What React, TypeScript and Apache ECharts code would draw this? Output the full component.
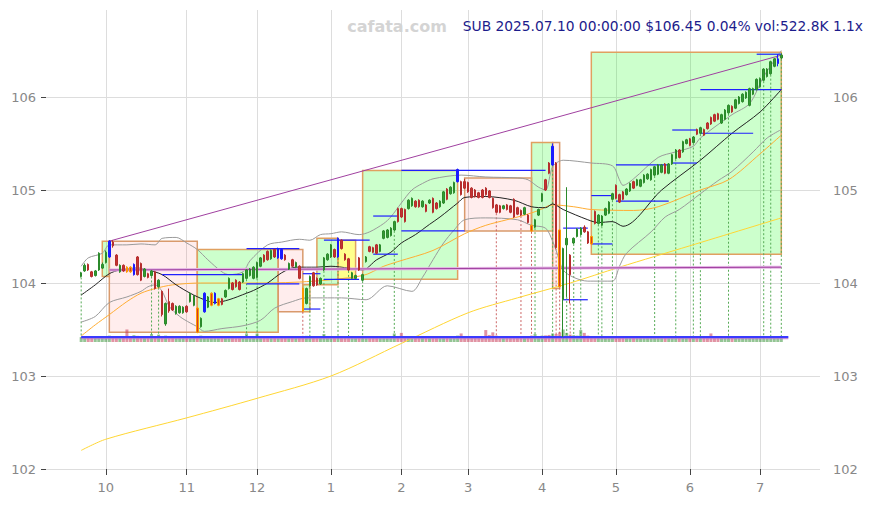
import React, { useEffect, useRef } from 'react';
import * as echarts from 'echarts';

const PAD = 10;
const SLOTS = 221;

const monthTicks: [number, string][] = [
  [7, '10'], [30, '11'], [50, '12'], [71, '1'], [91, '2'],
  [110, '3'], [131, '4'], [152, '5'], [173, '6'], [193, '7'],
];

// [open, close, low, high]
const ohlc: number[][] = [
  [104.07,104.11,104.06,104.12],[104.13,104.19,104.12,104.21],[104.20,104.14,104.13,104.21],[104.12,104.07,104.06,104.13],[104.08,104.13,104.07,104.14],
  [104.14,104.32,104.13,104.33],[104.16,104.20,104.15,104.22],[104.22,104.33,104.21,104.35],[104.28,104.45,104.27,104.46],[104.44,104.40,104.38,104.46],
  [104.30,104.19,104.18,104.31],[104.12,104.19,104.11,104.20],[104.19,104.13,104.12,104.20],[104.17,104.12,104.11,104.18],[104.17,104.12,104.11,104.18],
  [104.09,104.20,104.08,104.21],[104.28,104.09,104.08,104.29],[104.21,104.03,104.02,104.22],[104.07,104.15,104.06,104.16],[104.10,104.06,104.05,104.11],
  [104.08,104.13,104.07,104.14],[104.12,103.94,103.93,104.13],[103.96,104.03,103.95,104.04],[103.91,103.66,103.64,103.92],[103.56,103.78,103.54,103.79],
  [103.80,103.70,103.68,103.94],[103.78,103.71,103.70,103.79],[103.67,103.75,103.66,103.76],[103.68,103.75,103.67,103.76],[103.68,103.74,103.67,103.75],
  [103.75,103.69,103.68,103.76],[103.80,103.89,103.79,103.90],[103.76,103.86,103.75,103.87],[103.73,103.47,103.46,103.74],[103.53,103.62,103.52,103.63],
  [103.69,103.89,103.68,103.90],[103.74,103.85,103.73,103.86],[103.76,103.89,103.75,103.90],[103.78,103.89,103.77,103.90],[103.76,103.83,103.75,103.84],
  [103.83,103.77,103.76,103.84],[103.85,103.92,103.84,103.93],[103.94,104.05,103.93,104.06],[104.00,103.93,103.92,104.01],[104.03,103.96,103.95,104.04],
  [104.01,103.93,103.92,104.02],[104.01,104.10,104.00,104.11],[104.05,104.14,104.04,104.15],[104.08,104.15,104.07,104.16],[104.05,104.17,104.04,104.18],
  [104.06,104.22,104.05,104.23],[104.18,104.27,104.17,104.28],[104.30,104.23,104.22,104.31],[104.34,104.25,104.24,104.35],[104.26,104.35,104.25,104.36],
  [104.36,104.28,104.27,104.37],[104.27,104.37,104.26,104.38],[104.36,104.26,104.25,104.37],[104.30,104.25,104.24,104.31],[104.15,104.21,104.14,104.22],
  [104.25,104.18,104.17,104.26],[104.17,104.22,104.16,104.23],[104.18,104.05,104.04,104.19],[103.94,103.70,103.69,103.95],[103.78,103.94,103.77,103.95],
  [103.97,104.07,103.96,104.08],[104.11,103.97,103.96,104.12],[104.05,103.98,103.97,104.06],[103.99,104.05,103.98,104.06],[104.14,104.27,104.13,104.28],
  [104.25,104.31,104.24,104.32],[104.28,104.41,104.27,104.42],[104.36,104.28,104.27,104.37],[104.28,104.48,104.27,104.49],[104.46,104.37,104.36,104.47],
  [104.31,104.25,104.24,104.32],[104.26,104.14,104.13,104.27],[104.05,104.11,104.04,104.12],[104.05,104.08,104.04,104.09],[104.27,104.14,104.13,104.28],
  [104.03,104.09,104.02,104.10],[104.23,104.28,104.22,104.29],[104.39,104.34,104.33,104.40],[104.38,104.33,104.32,104.39],[104.41,104.32,104.31,104.42],
  [104.34,104.41,104.33,104.42],[104.48,104.56,104.47,104.57],[104.49,104.57,104.48,104.58],[104.51,104.59,104.50,104.60],[104.57,104.66,104.56,104.67],
  [104.80,104.66,104.65,104.81],[104.80,104.71,104.70,104.81],[104.79,104.66,104.65,104.80],[104.80,104.89,104.79,104.90],[104.83,104.91,104.82,104.92],
  [104.88,104.82,104.81,104.89],[104.89,104.82,104.81,104.90],[104.82,104.88,104.81,104.89],[104.84,104.77,104.76,104.85],[104.86,104.89,104.85,104.90],
  [104.91,104.76,104.75,104.92],[104.86,104.80,104.79,104.87],[104.82,104.88,104.81,104.89],[104.86,104.98,104.85,104.99],[105.01,104.90,104.89,105.02],
  [104.96,105.03,104.95,105.04],[104.97,105.08,104.96,105.09],[105.09,105.22,105.08,105.23],[105.09,104.95,104.94,105.10],[105.09,105.02,105.01,105.12],
  [105.08,104.98,104.97,105.09],[105.02,104.92,104.91,105.03],[105.00,104.93,104.92,105.01],[104.97,104.92,104.91,104.98],[105.00,104.92,104.91,105.01],
  [105.02,104.95,104.94,105.03],[104.99,104.92,104.91,105.00],[104.91,104.81,104.80,104.92],[104.84,104.76,104.75,104.85],[104.83,104.76,104.75,104.84],
  [104.80,104.83,104.79,104.84],[104.84,104.79,104.78,104.85],[104.83,104.76,104.75,104.84],[104.90,104.71,104.70,104.91],[104.81,104.74,104.73,104.82],
  [104.78,104.73,104.72,104.79],[104.74,104.81,104.73,104.82],[104.73,104.65,104.64,104.74],[104.62,104.56,104.55,104.63],[104.60,104.68,104.59,104.69],
  [104.73,104.79,104.72,104.80],[104.88,104.96,104.87,104.97],[105.11,105.00,104.99,105.12],[105.29,105.18,105.17,105.30],[105.27,105.47,105.26,105.50],
  [105.29,104.38,104.37,105.30],[104.57,103.96,103.95,104.58],[103.82,104.37,103.42,104.38],[104.41,104.48,103.85,105.03],[104.30,104.09,103.78,104.31],
  [104.43,104.48,104.42,104.49],[104.50,104.58,104.49,104.59],[104.52,104.59,104.51,104.60],[104.60,104.55,104.54,104.62],[104.55,104.43,104.42,104.56],
  [104.50,104.42,104.41,104.51],[104.77,104.64,104.63,104.78],[104.64,104.73,104.63,104.74],[104.62,104.72,104.61,104.73],[104.73,104.80,104.72,104.81],
  [104.75,104.87,104.74,104.88],[104.90,104.96,104.89,104.97],[105.05,104.91,104.90,105.06],[104.95,104.87,104.86,104.96],[104.98,104.90,104.89,104.99],
  [104.95,105.01,104.94,105.02],[104.99,105.07,104.98,105.08],[105.09,105.02,105.01,105.10],[105.05,105.11,105.04,105.12],[105.04,105.11,105.03,105.12],
  [105.08,105.16,105.07,105.17],[105.12,105.17,105.11,105.18],[105.11,105.22,105.10,105.23],[105.16,105.25,105.15,105.26],[105.17,105.27,105.16,105.28],
  [105.19,105.27,105.18,105.28],[105.28,105.18,105.17,105.29],[105.18,105.28,105.17,105.29],[105.28,105.38,105.27,105.39],[105.34,105.43,105.33,105.44],
  [105.43,105.35,105.34,105.44],[105.41,105.52,105.40,105.53],[105.50,105.54,105.49,105.55],[105.55,105.48,105.47,105.56],[105.51,105.57,105.50,105.58],
  [105.65,105.60,105.59,105.66],[105.61,105.67,105.60,105.68],[105.65,105.59,105.58,105.66],[105.72,105.66,105.65,105.73],[105.78,105.71,105.70,105.79],
  [105.81,105.74,105.73,105.82],[105.82,105.76,105.75,105.83],[105.72,105.81,105.71,105.82],[105.76,105.86,105.75,105.87],[105.83,105.91,105.82,105.92],
  [105.90,105.84,105.83,105.91],[105.88,105.97,105.87,105.98],[105.93,106.00,105.92,106.01],[105.95,106.03,105.94,106.04],[105.99,106.05,105.98,106.06],
  [105.91,106.09,105.90,106.10],[106.03,106.09,106.02,106.10],[106.08,106.19,106.07,106.20],[106.11,106.20,106.10,106.21],[106.18,106.30,106.17,106.31],
  [106.22,106.30,106.21,106.31],[106.25,106.38,106.24,106.39],[106.33,106.41,106.32,106.42],[106.36,106.41,106.33,106.46],[106.42,106.45,106.41,106.47],
];

const blueCandles = [8, 15, 35, 38, 56, 57, 73, 107, 134, 198];
const orangeCandles = [13, 14, 33, 37, 39, 63, 128, 136, 145];

// volume, thousands of shares
const volumes: number[] = [
  430,470,450,420,480,520,460,500,560,470,450,430,480,1100,520,600,540,490,470,450,
  700,480,650,520,560,500,470,450,430,460,480,440,470,520,560,500,480,460,450,430,
  420,450,470,440,460,430,450,750,480,460,750,470,450,440,460,430,470,480,450,420,
  440,460,470,520,540,480,460,450,470,700,480,460,490,520,470,450,460,440,430,470,
  460,480,450,470,440,460,480,470,450,750,480,800,470,460,450,440,470,460,450,430,
  470,450,460,480,490,470,500,560,750,520,480,470,460,450,480,1050,620,850,560,500,
  480,470,460,520,500,480,470,490,560,700,520,560,580,620,750,700,850,1100,800,650,
  600,560,1050,800,560,520,500,480,470,460,480,450,470,460,440,450,470,460,450,440,
  460,450,470,480,460,450,470,460,480,470,450,460,440,470,460,450,470,460,480,750,
  520,480,470,460,450,470,460,480,470,460,500,470,460,480,490,470,480,500,520,523,
];
const volAvgLevel = 440;
const volSlowLevel = 300;

// [day index, value]
const ma20: number[][] = [
  [0,103.87],[4,103.98],[8,104.10],[11,104.14],[16,104.16],[19,104.14],[23,104.09],[27,103.98],[31,103.89],[35,103.82],
  [38,103.79],[42,103.82],[47,103.89],[49,103.92],[53,104.00],[57,104.11],[61,104.17],[67,104.17],[71,104.18],[76,104.16],
  [80,104.14],[84,104.25],[88,104.33],[91,104.43],[95,104.52],[99,104.63],[102,104.71],[107,104.86],[109,104.92],[115,104.93],
  [123,104.89],[128,104.82],[132,104.81],[134,104.85],[137,104.79],[144,104.68],[147,104.65],[151,104.66],[154,104.61],[165,105.00],
  [176,105.32],[185,105.61],[193,105.84],[199,106.08],
];
const bbUpper: number[][] = [
  [0,104.18],[2,104.27],[6,104.32],[8,104.41],[13,104.41],[17,104.42],[21,104.41],[23,104.48],[27,104.49],[30,104.43],
  [33,104.36],[36,104.25],[40,104.12],[42,104.09],[46,104.12],[48,104.24],[53,104.41],[57,104.44],[62,104.47],[65,104.46],
  [68,104.52],[71,104.53],[74,104.55],[79,104.52],[82,104.55],[86,104.64],[88,104.71],[91,104.86],[94,105.00],[97,105.07],
  [100,105.12],[108,105.16],[115,105.14],[124,105.13],[127,105.11],[130,105.03],[132,105.00],[134,105.25],[137,105.32],[145,105.29],
  [151,105.26],[153,105.11],[154,105.05],[157,105.12],[164,105.35],[169,105.41],[174,105.47],[176,105.56],[185,105.81],[190,105.93],
  [194,106.22],[199,106.50],
];
const bbLower: number[][] = [
  [0,103.58],[4,103.64],[8,103.79],[13,103.85],[17,103.91],[19,103.96],[21,103.98],[23,103.91],[25,103.75],[28,103.64],
  [31,103.57],[33,103.53],[35,103.48],[40,103.51],[46,103.54],[51,103.60],[55,103.73],[60,103.80],[64,103.84],[70,103.84],
  [74,103.84],[81,103.82],[87,103.97],[94,103.91],[97,104.06],[100,104.25],[103,104.43],[106,104.57],[109,104.68],[115,104.70],
  [124,104.68],[128,104.62],[132,104.59],[134,104.45],[135,104.35],[137,104.14],[140,104.06],[144,104.02],[151,104.02],[153,104.18],
  [155,104.32],[162,104.55],[166,104.71],[170,104.79],[176,104.96],[181,105.10],[185,105.20],[191,105.41],[195,105.56],[199,105.65],
];
const ma50: number[][] = [
  [0,103.43],[4,103.55],[8,103.66],[13,103.80],[17,103.89],[21,103.94],[26,103.98],[34,104.00],[46,104.00],[62,104.01],
  [80,104.08],[86,104.18],[90,104.23],[100,104.35],[109,104.53],[115,104.62],[121,104.68],[126,104.73],[130,104.78],[134,104.84],
  [140,104.82],[145,104.79],[157,104.78],[164,104.82],[176,105.00],[184,105.11],[193,105.39],[199,105.59],
];
const ma200: number[][] = [
  [0,102.20],[7,102.32],[30,102.55],[50,102.76],[71,103.00],[91,103.35],[110,103.68],[124,103.84],[139,104.00],[153,104.17],
  [173,104.40],[199,104.70],
];
const trendLine: number[][] = [[8, 104.45], [199, 106.45]];
const baseLine: number[][] = [[8, 104.14], [199, 104.17]];

// [start, end, top, bottom, kind]
const boxes: [number, number, number, number, string][] = [
  [6, 8, 104.45, 104.07, 'g'],
  [8, 33, 104.45, 103.47, 'p'],
  [33, 56, 104.36, 103.47, 'g'],
  [56, 63, 104.36, 103.69, 'p'],
  [63, 65, 103.98, 103.69, 'g'],
  [67, 73, 104.48, 103.98, 'g'],
  [73, 78, 104.46, 104.04, 'y'],
  [80, 107, 105.21, 104.04, 'g'],
  [109, 128, 105.13, 104.56, 'p'],
  [128, 134, 105.51, 104.56, 'g'],
  [134, 136, 105.51, 103.94, 'p'],
  [145, 199, 106.48, 104.31, 'g'],
];

// [start, end, price]
const levels: number[][] = [
  [23, 46, 104.09], [47, 62, 104.37], [47, 62, 103.99], [63, 68, 104.10], [63, 68, 103.72],
  [69, 82, 104.46], [69, 79, 104.04], [83, 90, 104.72], [83, 90, 104.31], [91, 132, 105.21],
  [91, 109, 104.56], [137, 144, 104.59], [137, 144, 103.82], [145, 151, 104.94], [145, 151, 104.42],
  [152, 167, 105.27], [152, 167, 104.88], [168, 175, 105.645], [168, 175, 105.29], [176, 199, 106.08],
  [176, 191, 105.61], [192, 199, 106.46],
];

// [day index, 1 = green, 0 = red]
const markers: number[][] = [
  [0,1],[20,1],[22,1],[47,1],[50,1],[63,0],[65,1],[69,1],[73,1],[76,1],[80,1],[89,1],
  [118,0],[125,0],[128,0],[129,1],[134,1],[135,0],[136,0],[137,1],[138,1],[139,0],[140,1],[142,1],
  [147,1],[148,1],[151,1],[163,1],[169,1],[174,1],[176,1],[184,1],[194,1],[196,1],[199,1],
];
const markerBottom = 103.40;

const titleText = 'SUB 2025.07.10 00:00:00 $106.45 0.04% vol:522.8K 1.1x';
const watermark = 'cafata.com';

const FONT = '"DejaVu Sans", sans-serif';

export default function App() {
  const ref = useRef<HTMLDivElement>(null);
  useEffect(() => {
    document.body.style.margin = '0';
    const chart = echarts.init(ref.current!, null, { renderer: 'svg' });
    const cats = Array.from({ length: SLOTS }, (_, k) => 's' + k);
    const monthMap = new Map<number, string>(monthTicks.map(([i, l]) => [i + PAD, l]));
    const isMonth = (idx: number) => monthMap.has(idx);
    const shift = (arr: number[][]) => arr.map((p) => [p[0] + PAD, p[1]]);
    const blueSet = new Set(blueCandles);
    const orangeSet = new Set(orangeCandles);

    const candleData = ohlc.map((d, i) => {
      const item: any = { value: [i + PAD, d[0], d[1], d[2], d[3]] };
      if (blueSet.has(i)) {
        item.itemStyle = { color: '#1a1aff', color0: '#1a1aff', borderColor: '#1a1aff', borderColor0: '#1a1aff' };
      } else if (orangeSet.has(i)) {
        item.itemStyle = { color: '#d23a2a', color0: '#d23a2a', borderColor: '#ff9a00', borderColor0: '#ff9a00' };
      }
      return item;
    });

    const volData = volumes.map((v, i) => ({
      value: [i + PAD, v],
      itemStyle: { color: ohlc[i][1] >= ohlc[i][0] ? 'rgba(60,150,60,0.55)' : 'rgba(200,60,90,0.55)' },
    }));

    const boxFill: Record<string, string> = { g: 'rgba(0,255,0,0.2)', p: 'rgba(255,0,0,0.07)', y: 'rgba(255,255,0,0.45)' };

    const lineSeries = (name: string, data: number[][], color: string, width = 1, z = 3, smooth: any = 0.3) => ({
      name, type: 'line', xAxisIndex: 0, yAxisIndex: 0, data: shift(data), showSymbol: false, symbol: 'none',
      smooth, lineStyle: { color, width }, z, silent: true,
    });

    const option: any = {
      animation: false,
      grid: [
        { left: 46, right: 53, top: 10, bottom: 36 },
        { left: 46, right: 53, top: 97, bottom: 36 },
        { left: 46, right: 53, top: 301, bottom: 163 },
      ],
      xAxis: [
        {
          type: 'category', gridIndex: 0, data: cats, boundaryGap: false,
          axisLine: { show: false },
          axisTick: { show: true, interval: (i: number) => isMonth(i), length: 6, lineStyle: { color: '#444' } },
          axisLabel: {
            interval: (i: number) => isMonth(i), formatter: (_v: string, i: number) => monthMap.get(i) || '',
            color: '#888', fontSize: 13, margin: 12, fontFamily: FONT,
          },
          splitLine: { show: true, interval: (i: number) => isMonth(i), lineStyle: { color: '#dddddd' } },
        },
        { type: 'category', gridIndex: 1, data: cats, boundaryGap: false, show: false },
        { type: 'category', gridIndex: 2, data: cats, boundaryGap: false, show: false },
      ],
      yAxis: [
        { type: 'value', gridIndex: 0, min: 102, max: 102 + 459 / 93, show: false, splitLine: { show: false } },
        {
          type: 'value', gridIndex: 1, min: 102, max: 106, interval: 1, position: 'left',
          axisLine: { show: false },
          axisTick: { show: true, length: 5, lineStyle: { color: '#444' } },
          axisLabel: { color: '#888', fontSize: 13, margin: 10, fontFamily: FONT },
          splitLine: { show: true, lineStyle: { color: '#dddddd' } },
        },
        {
          type: 'value', gridIndex: 1, min: 102, max: 106, interval: 1, position: 'right',
          axisLine: { show: false }, axisTick: { show: false },
          axisLabel: { color: '#888', fontSize: 13, margin: 13, fontFamily: FONT },
          splitLine: { show: false },
        },
        { type: 'value', gridIndex: 2, min: 0, max: 3600, show: false, splitLine: { show: false } },
      ],
      graphic: [
        {
          type: 'text', x: 397, y: 26, z: 10,
          style: { text: watermark, fill: '#d4d4d4', fontSize: 16, fontWeight: 'bold', fontFamily: FONT, align: 'center', verticalAlign: 'middle' },
        },
        {
          type: 'text', x: 863, y: 26, z: 10,
          style: { text: titleText, fill: '#1c1c8c', fontSize: 13.8, fontFamily: FONT, align: 'right', verticalAlign: 'middle' },
        },
      ],
      series: [
        {
          name: 'boxes', type: 'custom', xAxisIndex: 0, yAxisIndex: 0, z: 1, silent: true,
          data: boxes.map((b) => [b[0] + PAD, b[2]]),
          renderItem: (params: any, api: any) => {
            const b = boxes[params.dataIndex];
            const p1 = api.coord([b[0] + PAD, b[2]]);
            const p2 = api.coord([b[1] + PAD, b[3]]);
            return {
              type: 'rect',
              shape: { x: p1[0], y: p1[1], width: p2[0] - p1[0], height: p2[1] - p1[1] },
              style: { fill: boxFill[b[4]], stroke: b[4] === 'p' ? '#d99a6c' : '#e0a060', lineWidth: 1.5 },
            };
          },
        },
        {
          name: 'markers', type: 'custom', xAxisIndex: 0, yAxisIndex: 0, z: 2, silent: true,
          data: markers.map((m) => [m[0] + PAD, ohlc[m[0]][2]]),
          renderItem: (params: any, api: any) => {
            const m = markers[params.dataIndex];
            const p1 = api.coord([m[0] + PAD, ohlc[m[0]][2]]);
            const p2 = api.coord([m[0] + PAD, markerBottom]);
            return {
              type: 'line',
              shape: { x1: p1[0], y1: p1[1], x2: p2[0], y2: p2[1] },
              style: { stroke: m[1] ? '#55aa55' : '#cc6666', lineWidth: 1, lineDash: [2, 2] },
            };
          },
        },
        lineSeries('ma200', ma200, '#ffd633', 1, 3),
        lineSeries('bbUpper', bbUpper, '#9a9a9a', 1, 3),
        lineSeries('bbLower', bbLower, '#9a9a9a', 1, 3),
        lineSeries('ma50', ma50, '#ffad33', 1, 3),
        lineSeries('ma20', ma20, '#222222', 1, 3),
        lineSeries('baseGlow', baseLine, '#e4b4e4', 3, 3, false),
        lineSeries('base', baseLine, '#a040a0', 1, 3, false),
        lineSeries('trend', trendLine, '#a040a0', 1, 3, false),
        {
          name: 'levels', type: 'custom', xAxisIndex: 0, yAxisIndex: 0, z: 4, silent: true,
          data: levels.map((l) => [l[0] + PAD, l[2]]),
          renderItem: (params: any, api: any) => {
            const l = levels[params.dataIndex];
            const p1 = api.coord([l[0] + PAD, l[2]]);
            const p2 = api.coord([l[1] + PAD, l[2]]);
            return {
              type: 'line',
              shape: { x1: p1[0], y1: p1[1], x2: p2[0], y2: p2[1] },
              style: { stroke: '#1f1fff', lineWidth: 1.2 },
            };
          },
        },
        {
          name: 'price', type: 'candlestick', xAxisIndex: 0, yAxisIndex: 0, z: 5,
          encode: { x: 0, y: [1, 2, 3, 4] },
          barWidth: 2,
          itemStyle: { color: '#339933', color0: '#c43333', borderColor: '#2b8a2b', borderColor0: '#b52d2d', borderWidth: 1 },
          data: candleData,
        },
        {
          name: 'volume', type: 'bar', xAxisIndex: 2, yAxisIndex: 3, barWidth: 3, data: volData, z: 2, silent: true,
        },
        {
          name: 'volSlow', type: 'line', xAxisIndex: 2, yAxisIndex: 3, showSymbol: false, symbol: 'none', z: 3, silent: true,
          data: [[PAD, volSlowLevel], [PAD + 201, volSlowLevel]], lineStyle: { color: '#b070d0', width: 1.5, opacity: 0.8 },
        },
        {
          name: 'volAvg', type: 'line', xAxisIndex: 2, yAxisIndex: 3, showSymbol: false, symbol: 'none', z: 3, silent: true,
          data: [[PAD, volAvgLevel], [PAD + 201, volAvgLevel]], lineStyle: { color: '#3a3aff', width: 2 },
        },
      ],
    };
    chart.setOption(option);
    return () => chart.dispose();
  }, []);
  return <div ref={ref} style={{ width: 873, height: 505 }} />;
}
